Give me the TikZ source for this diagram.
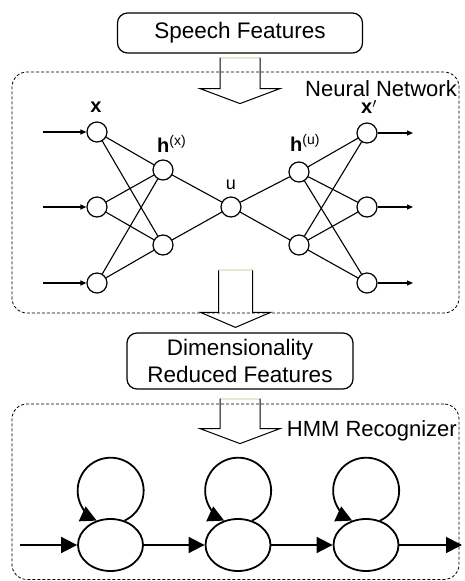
\documentclass[tikz,border=0pt]{standalone}
\usepackage{fontspec}
\setmainfont{Liberation Sans}
\usetikzlibrary{arrows.meta,shapes.geometric}
\definecolor{shafttop}{HTML}{E4EAD2}

\tikzset{
    featbox/.style={draw=black, line width=1.2pt, rounded corners=10pt, align=center, inner sep=0pt, font=\fontsize{22.5}{27}\selectfont},
    groupbox/.style={draw=black, line width=0.8pt, dash pattern=on 3pt off 2pt, rounded corners=15pt, inner sep=0pt},
    grouplabel/.style={inner sep=0pt, font=\fontsize{22}{26}\selectfont},
    neuron/.style={draw=black, circle, line width=1.2pt, minimum size=20pt, inner sep=0pt},
    synapse/.style={line width=1.1pt},
    nnlabel/.style={inner sep=0pt, font=\fontsize{20}{22}\selectfont},
    state/.style={draw=black, ellipse, line width=1.8pt, minimum width=65pt, minimum height=52pt, inner sep=0pt},
    hmmline/.style={line width=1.8pt, -{Triangle[length=16pt, width=16pt]}},
    pics/hollowarrow/.style n args={3}{code={
        \fill[shafttop] (-#1,-1) rectangle (#1,1);
        \draw[line width=1pt] (-#1,0) -- (-#1,-#2) -- (-#3,-#2) -- (0,-#2-15) -- (#3,-#2) -- (#1,-#2) -- (#1,0);
    }}
}

\begin{document}
\begin{tikzpicture}[x=1pt, y=1pt]
    \useasboundingbox (0,0) rectangle (464,581);

    % feature boxes and groups
    \node [featbox, minimum width=245pt, minimum height=40pt] (speech) at (240,548) {Speech Features};
    \node [groupbox, minimum width=447pt, minimum height=241pt] (nnbox) at (235.5,388.5) {};
    \node [grouplabel, anchor=base east] (nnlabel) at (457,484) {Neural Network};
    \node [featbox, minimum width=226pt, minimum height=56pt] (reduced) at (240,220) {Dimensionality\\Reduced Features};
    \node [groupbox, minimum width=447pt, minimum height=175.5pt] (hmmbox) at (235.5,89.25) {};
    \node [grouplabel, anchor=base east] (hmmlabel) at (457,144) {HMM Recognizer};

    % hollow arrows between the stages
    \pic at ([yshift=-4pt]speech.south) {hollowarrow={20}{31}{40}};
    \pic at ([yshift=43pt]nnbox.south) {hollowarrow={17}{42}{35}};
    \pic at ([yshift=-9pt]reduced.south) {hollowarrow={20}{30}{40}};

    % autoencoder
    \node [neuron] (x1) at (97,449) {};
    \node [neuron] (x2) at (97,374) {};
    \node [neuron] (x3) at (97,298) {};
    \node [neuron] (hx1) at (163,411) {};
    \node [neuron] (hx2) at (163,336) {};
    \node [neuron] (u) at (231,374) {};
    \node [neuron] (hu1) at (299,409) {};
    \node [neuron] (hu2) at (299,336) {};
    \node [neuron] (xp1) at (367,448) {};
    \node [neuron] (xp2) at (367,374) {};
    \node [neuron] (xp3) at (367,298) {};

    \foreach \i in {1,2,3} {
        \foreach \j in {1,2} {
            \draw [synapse] (x\i) -- (hx\j);
            \draw [synapse] (hu\j) -- (xp\i);
        }
        \draw [synapse, -{Triangle[length=6pt, width=5pt]}] (43,0 |- x\i) -- (x\i);
        \draw [synapse, -{Triangle[length=6pt, width=5pt]}] (xp\i) -- (413,0 |- xp\i);
    }
    \foreach \j in {1,2} {
        \draw [synapse] (hx\j) -- (u);
        \draw [synapse] (u) -- (hu\j);
    }

    \node [nnlabel, anchor=base] (xlab) at (96,468) {\textbf{x}};
    \node [nnlabel, anchor=base west] (hxlab) at (157,428) {\textbf{h}\textsuperscript{(x)}};
    \node [nnlabel, anchor=base, font=\fontsize{18}{20}\selectfont] (ulab) at (231,391) {u};
    \node [nnlabel, anchor=base west] (hulab) at (290,429) {\textbf{h}\textsuperscript{(u)}};
    \node [nnlabel, anchor=base west] (xplab) at (361,467) {\textbf{x}\raisebox{-2pt}{$'$}};

    % hmm states
    \node [state] (s1) at (110.5,36) {};
    \node [state] (s2) at (238,36) {};
    \node [state] (s3) at (366,36) {};
    \coordinate (hmmin) at (20,36);
    \coordinate (hmmout) at (462,36);

    \draw [hmmline] (hmmin) -- (s1);
    \draw [hmmline] (s1) -- (s2);
    \draw [hmmline] (s2) -- (s3);
    \draw [hmmline] (s3) -- (hmmout);
    \foreach \s in {s1,s2,s3}
        \draw [hmmline] (\s.60) arc[start angle=-65, end angle=245, radius=33];
\end{tikzpicture}
\end{document}
